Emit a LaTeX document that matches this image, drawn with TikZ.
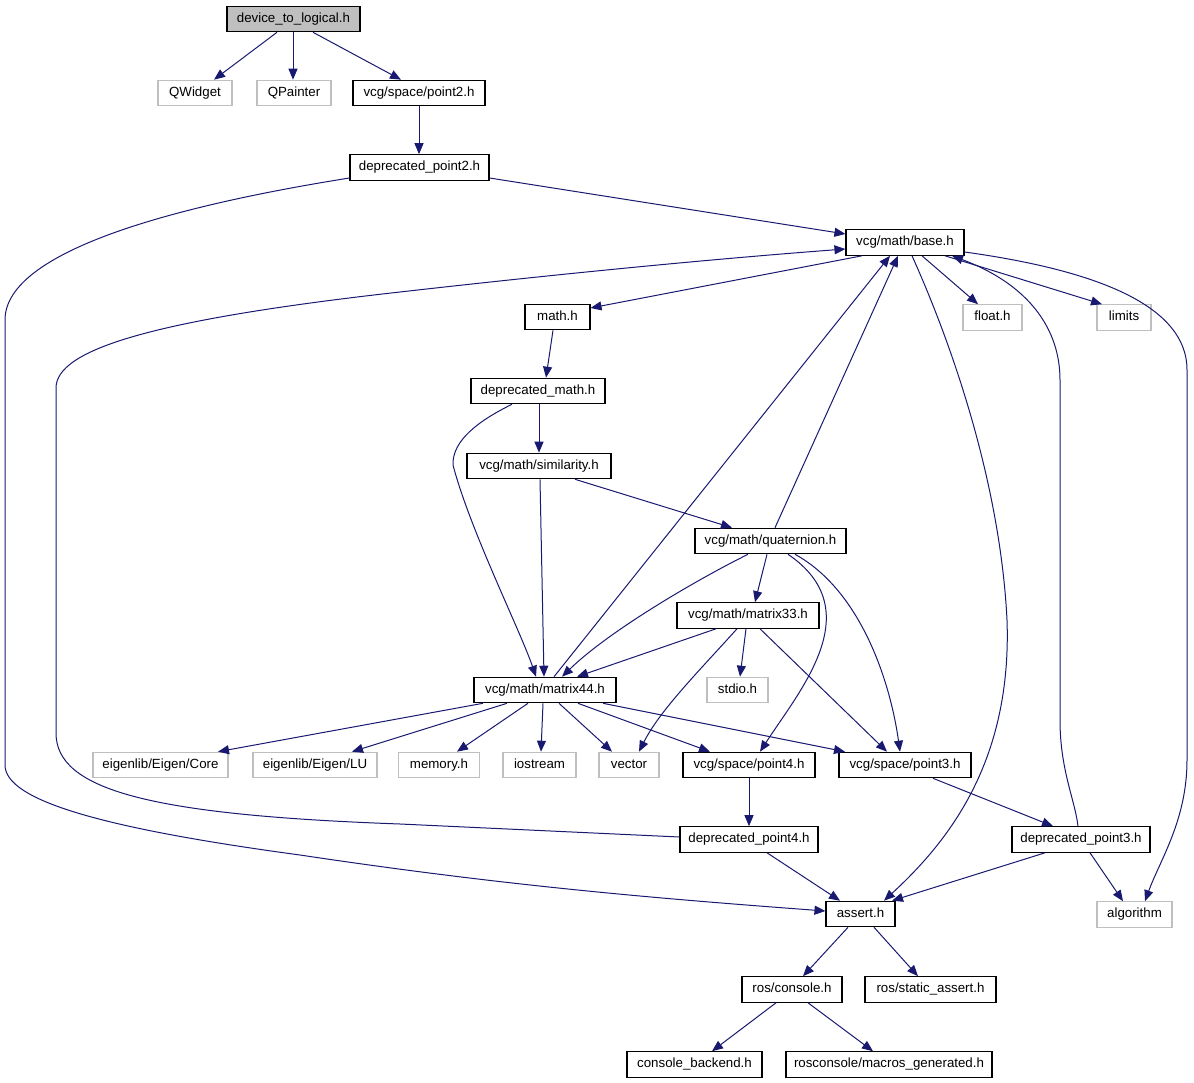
\documentclass[tikz,border=0pt]{standalone}
\usepackage{fontspec}
\setmainfont{Liberation Sans}
\usetikzlibrary{arrows.meta}
\definecolor{edgeblue}{HTML}{191970}
\definecolor{lgray}{HTML}{BFBFBF}
\begin{document}
\begin{tikzpicture}[x=1pt,y=-1pt,
 hbox/.style={draw=black, line width=1.1pt, fill=white, minimum height=25.5pt, inner sep=0pt,
   font=\fontsize{13.3}{15}\selectfont, text height=9.5pt, text depth=3pt},
 sysbox/.style={hbox, draw=lgray},
 rootbox/.style={hbox, fill=lgray},
 dep/.style={color=edgeblue, line width=1pt, -{Triangle[length=11pt,width=9pt]}}
]
\useasboundingbox (0,0) rectangle (1194,1083);
% nodes
\node[rootbox, minimum width=133pt] (dev) at (293.5,19) {device\_to\_logical.h};
\node[sysbox, minimum width=74pt] (qwidget) at (195,93) {QWidget};
\node[sysbox, minimum width=74pt] (qpainter) at (294,93) {QPainter};
\node[hbox, minimum width=132pt] (point2) at (419,93) {vcg/space/point2.h};
\node[hbox, minimum width=139pt] (dp2) at (419.5,167.5) {deprecated\_point2.h};
\node[hbox, minimum width=118pt] (base) at (905,242.5) {vcg/math/base.h};
\node[hbox, minimum width=65pt] (math) at (557.5,317) {math.h};
\node[sysbox, minimum width=59pt] (float) at (992.5,317.5) {float.h};
\node[sysbox, minimum width=54pt] (limits) at (1124,317.5) {limits};
\node[hbox, minimum width=134pt] (dmath) at (538,391) {deprecated\_math.h};
\node[hbox, minimum width=144pt] (sim) at (539,466) {vcg/math/similarity.h};
\node[hbox, minimum width=151pt] (quat) at (770.5,541) {vcg/math/quaternion.h};
\node[hbox, minimum width=142pt] (m33) at (748,615.5) {vcg/math/matrix33.h};
\node[hbox, minimum width=142pt] (m44) at (545,690) {vcg/math/matrix44.h};
\node[sysbox, minimum width=61pt] (stdio) at (737.5,690) {stdio.h};
\node[sysbox, minimum width=135pt] (core) at (160.5,765) {eigenlib/Eigen/Core};
\node[sysbox, minimum width=124pt] (lu) at (315,765) {eigenlib/Eigen/LU};
\node[sysbox, minimum width=81pt] (memory) at (439,765) {memory.h};
\node[sysbox, minimum width=73pt] (iostream) at (539.5,765) {iostream};
\node[sysbox, minimum width=60pt] (vector) at (629,765) {vector};
\node[hbox, minimum width=132pt] (point4) at (749,765) {vcg/space/point4.h};
\node[hbox, minimum width=132pt] (point3) at (905,765) {vcg/space/point3.h};
\node[hbox, minimum width=138pt] (dp4) at (749,839.5) {deprecated\_point4.h};
\node[hbox, minimum width=138pt] (dp3) at (1081,839.5) {deprecated\_point3.h};
\node[hbox, minimum width=69pt] (assert) at (860.5,914) {assert.h};
\node[sysbox, minimum width=75pt] (algorithm) at (1134.5,914.5) {algorithm};
\node[hbox, minimum width=100pt] (console) at (792,989.5) {ros/console.h};
\node[hbox, minimum width=131pt] (static) at (930.5,989.5) {ros/static\_assert.h};
\node[hbox, minimum width=135pt] (backend) at (694.5,1064.5) {console\_backend.h};
\node[hbox, minimum width=206pt] (macros) at (889,1064.5) {rosconsole/macros\_generated.h};
% edges
\draw[dep] (dev.south -| 277,0) -- (qwidget.north -| 214,0);
\draw[dep] (dev.south -| 293,0) -- (qpainter.north -| 293,0);
\draw[dep] (dev.south -| 313,0) -- (point2.north -| 401,0);
\draw[dep] (point2.south) -- (point2.south |- dp2.north);
\draw[dep] (dp2.east |- 0,178) -- (base.west |- 0,234);
\draw[dep] (dp2.west |- 0,178) .. controls (180,205) and (5,250) .. (5,320) -- (5,765)
  .. controls (5,800) and (100,828) .. (300,855) .. controls (500,885) and (650,898) .. (assert.west |- 0,911);
\draw[dep] (base.south -| 862,0) -- (math.east |- 0,308);
\draw[dep] (base.south -| 922,0) -- (float.north -| 978,0);
\draw[dep] (base.south -| 945,0) -- (limits.north -| 1102,0);
\draw[dep] (base.south -| 912,0) .. controls (950,340) and (1000,480) .. (1007,620)
  .. controls (1012,760) and (950,840) .. (assert.north -| 884,0);
\draw[dep] (base.east |- 0,252) .. controls (1080,268) and (1187,300) .. (1187,370) -- (1187,760)
  .. controls (1187,820) and (1160,860) .. (algorithm.north -| 1145,0);
\draw[dep] (math.south -| 553,0) -- (dmath.north -| 546,0);
\draw[dep] (dmath.south -| 539,0) -- (sim.north -| 539,0);
\draw[dep] (dmath.south -| 512,0) .. controls (480,420) and (452,440) .. (453,465)
  .. controls (470,530) and (520,630) .. (m44.north -| 536,0);
\draw[dep] (sim.south -| 540,0) -- (m44.north -| 544,0);
\draw[dep] (sim.south -| 575,0) -- (quat.north -| 732,0);
\draw[dep] (quat.north -| 775,0) -- (base.south -| 898,0);
\draw[dep] (quat.south -| 767,0) -- (m33.north -| 755,0);
\draw[dep] (quat.south -| 748,0) .. controls (700,578) and (610,630) .. (m44.north -| 562,0);
\draw[dep] (quat.south -| 788,0) .. controls (870,610) and (800,690) .. (point4.north -| 760,0);
\draw[dep] (quat.south -| 795,0) .. controls (860,590) and (890,680) .. (point3.north -| 900,0);
\draw[dep] (m33.south -| 716,0) -- (m44.north -| 577,0);
\draw[dep] (m33.south -| 746,0) -- (stdio.north -| 740,0);
\draw[dep] (m33.south -| 737,0) .. controls (700,670) and (660,710) .. (vector.north -| 639,0);
\draw[dep] (m33.south -| 760,0) -- (point3.north -| 887,0);
\draw[dep] (m44.north -| 554,0) -- (base.south -| 890,0);
\draw[dep] (m44.south -| 483,0) -- (core.north -| 218,0);
\draw[dep] (m44.south -| 507,0) -- (lu.north -| 352,0);
\draw[dep] (m44.south -| 528,0) -- (memory.north -| 457,0);
\draw[dep] (m44.south -| 543,0) -- (iostream.north -| 541,0);
\draw[dep] (m44.south -| 559,0) -- (vector.north -| 612,0);
\draw[dep] (m44.south -| 578,0) -- (point4.north -| 710,0);
\draw[dep] (m44.south -| 603,0) -- (point3.north -| 845,0);
\draw[dep] (point4.south -| 749,0) -- (dp4.north -| 749,0);
\draw[dep] (dp4.west |- 0,837) -- (400,824) .. controls (150,815) and (56,790) .. (56,733) -- (56,388)
  .. controls (56,350) and (150,320) .. (400,292) .. controls (550,275) and (700,260) .. (base.west |- 0,249);
\draw[dep] (dp4.south -| 767,0) -- (assert.north -| 840,0);
\draw[dep] (point3.south -| 933,0) -- (dp3.north -| 1053,0);
\draw[dep] (dp3.north -| 1078,0) .. controls (1075,800) and (1060,770) .. (1060,720) -- (1060,380)
  .. controls (1060,330) and (1030,285) .. (base.south -| 952,0);
\draw[dep] (dp3.south -| 1045,0) -- (assert.north -| 892,0);
\draw[dep] (dp3.south -| 1090,0) -- (algorithm.north -| 1123,0);
\draw[dep] (assert.south -| 848,0) -- (console.north -| 803,0);
\draw[dep] (assert.south -| 874,0) -- (static.north -| 918,0);
\draw[dep] (console.south -| 776,0) -- (backend.north -| 712,0);
\draw[dep] (console.south -| 808,0) -- (macros.north -| 873,0);
\end{tikzpicture}
\end{document}
